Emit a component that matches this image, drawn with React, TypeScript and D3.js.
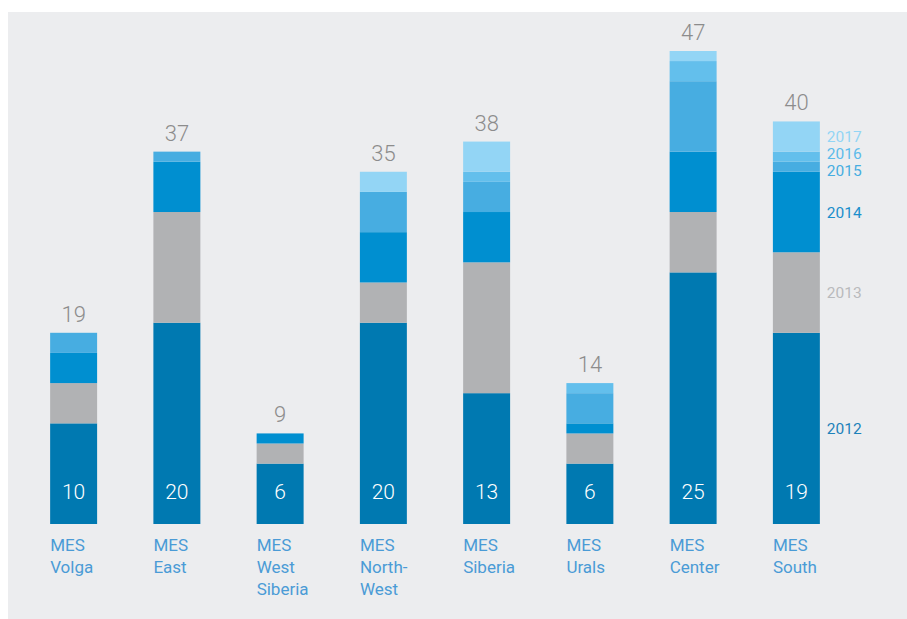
import React from "react";
import * as d3 from "d3";

const categories = ["MES\nVolga", "MES\nEast", "MES\nWest\nSiberia", "MES\nNorth-\nWest", "MES\nSiberia", "MES\nUrals", "MES\nCenter", "MES\nSouth"];
const years = ["2012", "2013", "2014", "2015", "2016", "2017"];
const v2012 = [10, 20, 6, 20, 13, 6, 25, 19];
const v2013 = [4, 11, 2, 4, 13, 3, 6, 8];
const v2014 = [3, 5, 1, 5, 5, 1, 6, 8];
const v2015 = [2, 1, 0, 4, 3, 3, 7, 1];
const v2016 = [0, 0, 0, 0, 1, 1, 2, 1];
const v2017 = [0, 0, 0, 2, 3, 0, 1, 3];
const totals = [19, 37, 9, 35, 38, 14, 47, 40];

const seriesValues = [v2012, v2013, v2014, v2015, v2016, v2017];
const colors = ["#0079B1", "#B1B2B4", "#008FD0", "#47ADE1", "#63BFEC", "#93D5F5"];
const legendColors = ["#1D82BA", "#B9BABC", "#1A8FCC", "#47ADE1", "#5CBBEA", "#93D5F5"];

const W = 907;
const H = 619;

export default function App() {
  const rows = categories.map((c, i) => {
    const r: any = { cat: c };
    years.forEach((y, k) => (r[y] = seriesValues[k][i]));
    return r;
  });
  const stack = d3.stack<any>().keys(years)(rows);

  const x = d3
    .scaleBand<string>()
    .domain(categories)
    .range([22, 848])
    .paddingInner(0.545)
    .paddingOuter(0.2725);
  const y = d3.scaleLinear().domain([0, 47]).range([524, 51]);
  const bw = x.bandwidth();

  const last = categories[categories.length - 1];
  const lastIdx = categories.length - 1;
  // legend positions: midpoints of the last bar's segments, relaxed to avoid overlap
  const legendY = stack.map((s) => (y(s[lastIdx][0]) + y(s[lastIdx][1])) / 2);
  const gap = 17;
  for (let iter = 0; iter < 30; iter++) {
    for (let k = 1; k < legendY.length; k++) {
      const d = legendY[k - 1] - legendY[k];
      if (d < gap) {
        const shift = (gap - d) / 2;
        legendY[k - 1] += shift;
        legendY[k] -= shift;
      }
    }
  }
  const legendX = (x(last) as number) + bw + 7;

  return (
    <svg
      width={W}
      height={H}
      style={{ position: "absolute", left: 0, top: 0 }}
      fontFamily="Roboto, 'DejaVu Sans', sans-serif"
    >
      <rect x={0} y={0} width={W} height={H} fill="#ffffff" />
      <rect x={8} y={12} width={W - 8} height={H - 12} fill="#ECEDEF" />
      {stack.map((s, k) => (
        <g key={years[k]} fill={colors[k]}>
          {s.map((d, i) =>
            d[1] - d[0] > 0 ? (
              <rect
                key={i}
                x={x(categories[i])}
                y={y(d[1])}
                width={bw}
                height={y(d[0]) - y(d[1])}
              />
            ) : null
          )}
        </g>
      ))}
      {categories.map((c, i) => (
        <text
          key={"t" + i}
          x={(x(c) as number) + bw / 2}
          y={y(totals[i]) - 11}
          textAnchor="middle"
          fontSize={22}
          fontWeight={300}
          fill="#8C8C8C"
        >
          {totals[i]}
        </text>
      ))}
      {categories.map((c, i) => (
        <text
          key={"b" + i}
          x={(x(c) as number) + bw / 2}
          y={499}
          textAnchor="middle"
          fontSize={21}
          fontWeight={300}
          fill="#ffffff"
        >
          {v2012[i]}
        </text>
      ))}
      {categories.map((c, i) => (
        <text
          key={"c" + i}
          x={x(c) as number}
          y={551}
          fontSize={17}
          fill="#4A9BD6"
        >
          {c.split("\n").map((line, j) => (
            <tspan key={j} x={x(c) as number} dy={j === 0 ? 0 : 22}>
              {line}
            </tspan>
          ))}
        </text>
      ))}
      {years.map((yr, k) => (
        <text
          key={"l" + k}
          x={legendX}
          y={legendY[k] + 5.5}
          fontSize={15.5}
          fill={legendColors[k]}
        >
          {yr}
        </text>
      ))}
    </svg>
  );
}
